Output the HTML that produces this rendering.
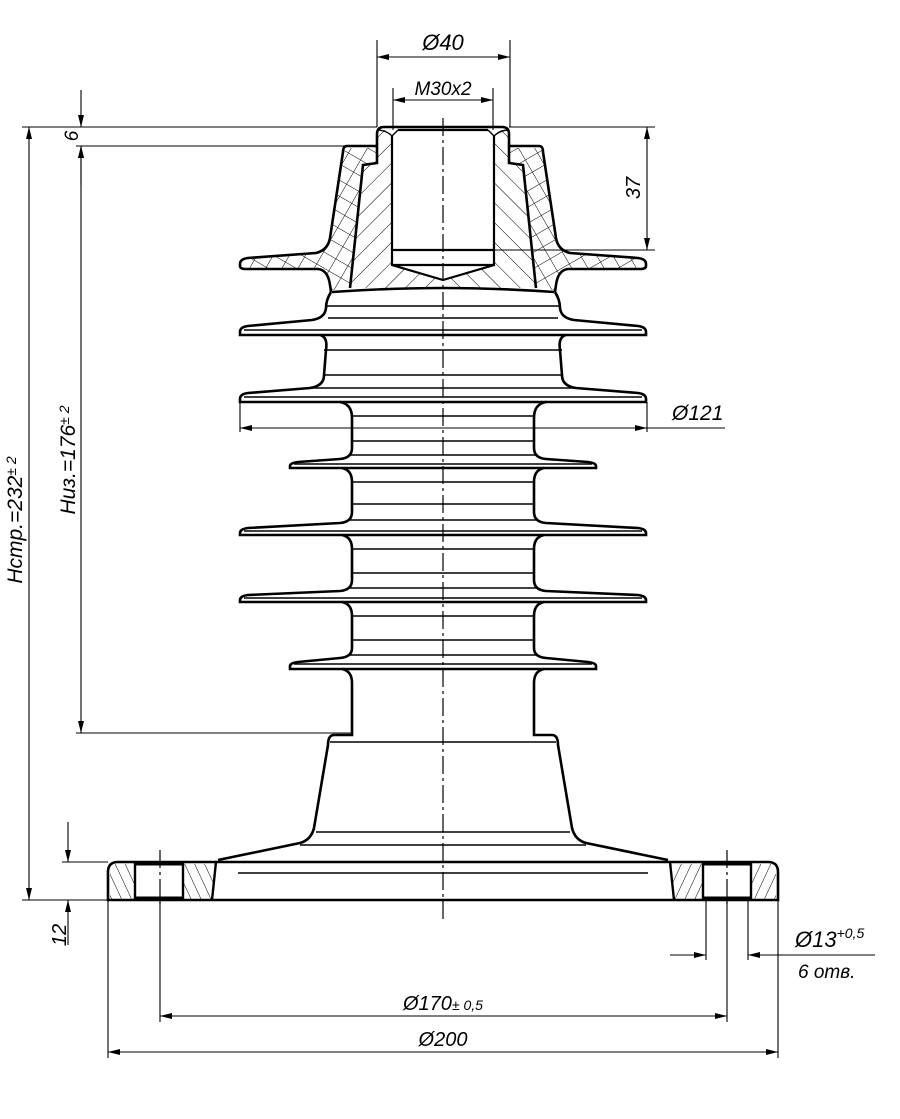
<!DOCTYPE html><html><head><meta charset="utf-8"><style>body{margin:0;background:#fff}svg{display:block}text{font-family:"Liberation Sans",sans-serif;font-style:italic;fill:#000}</style></head><body>
<svg width="900" height="1119" viewBox="0 0 900 1119" xmlns="http://www.w3.org/2000/svg">
<defs>
<pattern id="h1" width="14" height="14" patternUnits="userSpaceOnUse" patternTransform="rotate(45)"><line x1="0" y1="0" x2="0" y2="14" stroke="#000" stroke-width="1"/></pattern>
<pattern id="h2" width="14" height="14" patternUnits="userSpaceOnUse" patternTransform="rotate(30)"><line x1="0" y1="0" x2="0" y2="14" stroke="#000" stroke-width="1"/><line x1="0" y1="0" x2="14" y2="0" stroke="#000" stroke-width="1"/></pattern>
<pattern id="h3" width="9" height="9" patternUnits="userSpaceOnUse" patternTransform="rotate(-25)"><line x1="0" y1="0" x2="0" y2="9" stroke="#000" stroke-width="1"/></pattern>
<marker id="a" viewBox="0 0 12 6" refX="12" refY="3" markerWidth="12" markerHeight="6" orient="auto-start-reverse" markerUnits="userSpaceOnUse"><path d="M0,0 L12,3 L0,6z" fill="#000"/></marker>
<g id="half">
<!-- porcelain outline left -->
<path d="M347,146 L376,146 M347,146 Q343,146 343,152 L330,238 Q328,250 316,253 L248,258 Q240,259 240,264 L240,266 Q240,269 246,269 L318,269 Q328,270 330,285 L331,292
M331,292 Q326,300 326,308 Q325,318 312,320 L248,326 Q240,327 240,332 L240,335 L320,335 Q328,337 326,350 L324,375 Q324,386 310,388 L248,393 Q240,394 240,399 L240,402 L340,402 Q352,404 352,418 L352,448 Q352,458 340,459 L298,462 Q290,463 290,466 L290,468 L342,468 Q352,470 352,482 L352,512 Q352,522 340,523 L248,528 Q240,529 240,533 L240,535 L342,535 Q352,537 352,549 L352,580 Q352,590 340,591 L248,595 Q240,596 240,600 L240,602 L342,602 Q352,604 352,616 L352,648 Q352,657 340,658 L298,662 Q290,663 290,666 L290,669 L342,669 Q352,671 352,683 L352,735 L334,735 Q328,735 328,745 L314,828 Q311,840 300,843 L218,860" fill="none" stroke="#000" stroke-width="2.6"/>
<!-- shed lower double lines -->
<path d="M244,330 L443,330 M244,397 L443,397 M294,464 L443,464 M244,531 L443,531 M244,598 L443,598 M294,664 L443,664" stroke="#000" stroke-width="1.4"/>
<path d="M320,335 L443,335 M340,402 L443,402 M342,468 L443,468 M342,535 L443,535 M342,602 L443,602 M342,669 L443,669" stroke="#000" stroke-width="2.6"/>
<!-- core lines -->
<path d="M326,306 L443,306 M328,318 L443,318 M324,350 L443,350 M324,375 L443,375 M312,388 L443,388 M352,416 L443,416 M352,441 L443,441 M350,455 L443,455 M352,482 L443,482 M352,504 L443,504 M350,520 L443,520 M352,549 L443,549 M352,573 L443,573 M350,588 L443,588 M352,616 L443,616 M352,640 L443,640 M350,655 L443,655 M330,742 L443,742 M316,832 L443,832 M300,845 L443,845 M238,873 L443,873" stroke="#000" stroke-width="1.6"/>
<path d="M332,292 Q390,288 443,288" fill="none" stroke="#000" stroke-width="2.6"/>
<!-- flange -->
<path d="M443,862 L118,862 Q108,862 108,872 L108,900 L443,900" fill="none" stroke="#000" stroke-width="2.6"/>
<path d="M110,864 L135,864 L135,899 L110,899z M183,864 L216,864 L212,899 L183,899z" fill="url(#h3)"/>
<path d="M135,862 L135,900 M183,862 L183,900 M216,862 L212,900" stroke="#000" stroke-width="2.4"/>
<path d="M135,864 L183,864 M135,898 L183,898" stroke="#000" stroke-width="3"/>
<!-- cap: porcelain crosshatch region -->
<path d="M347,148 L376,148 L376,163 L363,165 L350,288 L331,290 Q328,270 318,269 L246,269 Q240,269 240,265 Q240,259 248,258 L316,253 Q328,250 330,238 L343,152z" fill="url(#h2)" stroke="none"/>
<!-- cap: metal single hatch -->
<path d="M378,130 L392,130 L392,265 L443,280 L443,288 L350,288 L363,165 L377,163z" fill="url(#h1)" stroke="none"/>
<path d="M443,127 L384,127 Q377,127 377,134 L377,163 L363,165 L350,288" fill="none" stroke="#000" stroke-width="2.6"/>
<path d="M392,136 L392,265 L443,280 M392,250 L443,250 M392,265 L443,265 M398,130 L443,130" fill="none" stroke="#000" stroke-width="2.2"/>
<path d="M377,130 Q386,130 392,136 L398,130" fill="none" stroke="#000" stroke-width="1.4"/>
</g>
</defs>
<use href="#half"/>
<use href="#half" transform="translate(886,0) scale(-1,1)"/>
<!-- center lines -->
<path d="M443,118 L443,920 M160,850 L160,905 M727,850 L727,905" stroke="#000" stroke-width="1.2" stroke-dasharray="18,4,3,4"/>
<!-- dimension lines -->
<g stroke="#000" stroke-width="1.1" fill="none">
<path d="M377,40 L377,127 M510,40 L510,127 M393,88 L393,130 M493,88 L493,130"/>
<path d="M377,57 L510,57" marker-start="url(#a)" marker-end="url(#a)"/>
<path d="M393,100 L493,100" marker-start="url(#a)" marker-end="url(#a)"/>
<path d="M22,127 L377,127 M509,127 L655,127 M76,146 L345,146 M493,250 L655,250"/>
<path d="M81,90 L81,127" marker-end="url(#a)"/>
<path d="M81,185 L81,146" marker-end="url(#a)"/>
<path d="M647,127 L647,250" marker-start="url(#a)" marker-end="url(#a)"/>
<path d="M29,127 L29,900" marker-start="url(#a)" marker-end="url(#a)"/>
<path d="M81,146 L81,733" marker-start="url(#a)" marker-end="url(#a)"/>
<path d="M76,733 L352,733"/>
<path d="M240,428 L647,428 L725,428" />
<path d="M240,428 L300,428" marker-start="url(#a)"/>
<path d="M560,428 L647,428" marker-end="url(#a)"/>
<path d="M240,402 L240,432 M647,402 L647,432"/>
<path d="M22,900 L108,900 M62,862 L108,862"/>
<path d="M68,822 L68,862" marker-end="url(#a)"/>
<path d="M68,945 L68,900" marker-end="url(#a)"/>
<path d="M160,900 L160,1022 M727,900 L727,1022 M108,900 L108,1058 M778,900 L778,1058 M706,900 L706,960 M748,900 L748,960"/>
<path d="M160,1016 L727,1016" marker-start="url(#a)" marker-end="url(#a)"/>
<path d="M108,1052 L778,1052" marker-start="url(#a)" marker-end="url(#a)"/>
<path d="M670,955 L706,955" marker-end="url(#a)"/>
<path d="M778,955 L748,955" marker-end="url(#a)"/>
<path d="M748,955 L875,955"/>
</g>
<!-- labels -->
<text x="443" y="50" font-size="22" text-anchor="middle">Ø40</text>
<text x="443" y="95" font-size="19" text-anchor="middle">M30x2</text>
<text transform="translate(78,136) rotate(-90)" font-size="19" text-anchor="middle">6</text>
<text transform="translate(640,188) rotate(-90)" font-size="20" text-anchor="middle">37</text>
<text x="672" y="420" font-size="21">Ø121</text>
<text transform="translate(22,520) rotate(-90)" font-size="21" text-anchor="middle">Hcmp.=232<tspan font-size="14" dy="-6">± 2</tspan></text>
<text transform="translate(75,460) rotate(-90)" font-size="21" text-anchor="middle">Hиз.=176<tspan font-size="14" dy="-6">± 2</tspan></text>
<text transform="translate(66,935) rotate(-90)" font-size="20" text-anchor="middle">12</text>
<text x="795" y="947" font-size="22">Ø13<tspan font-size="14" dy="-9">+0,5</tspan></text>
<text x="798" y="978" font-size="19">6 отв.</text>
<text x="443" y="1010" font-size="20" text-anchor="middle">Ø170<tspan font-size="14">± 0,5</tspan></text>
<text x="443" y="1046" font-size="20" text-anchor="middle">Ø200</text>
</svg>
</body></html>
